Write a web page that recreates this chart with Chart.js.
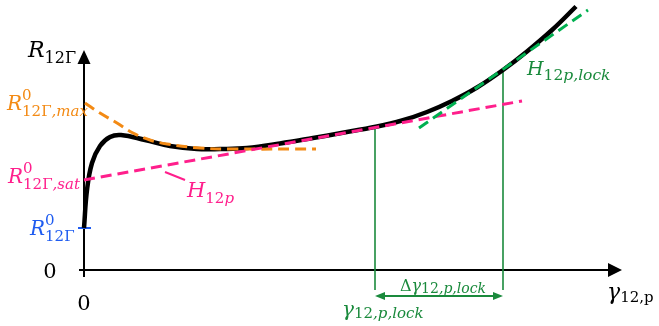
<!DOCTYPE html>
<html><head><meta charset="utf-8">
<script src="https://cdn.jsdelivr.net/npm/chart.js@4"></script>
<style>html,body{margin:0;padding:0;background:#fff}#wrap{width:659px;height:326px;position:relative}</style>
</head><body><div id="wrap"><canvas id="c"></canvas></div>
<script>
// Shear response R12Γ versus plastic shear strain γ12,p (arbitrary units)
const curveGamma = [0, 0.06, 0.16, 0.32, 0.52, 0.74, 1.22, 1.72, 2.26, 2.72, 3.26, 3.92, 4.58, 5.12, 5.86, 6.36, 6.86, 7.36, 7.86, 8.38, 8.86, 9.36, 9.84];
const curveR     = [0.84, 1.60, 2.14, 2.48, 2.66, 2.70, 2.60, 2.48, 2.42, 2.42, 2.44, 2.53, 2.64, 2.735, 2.87, 2.99, 3.16, 3.38, 3.65, 4.00, 4.37, 4.80, 5.27];
// exponential part starting from R0_max
const maxFitGamma = [0.02, 0.32, 0.66, 0.98, 1.32, 1.66, 2.32, 2.98, 4.64];
const maxFitR     = [3.34, 3.14, 2.94, 2.74, 2.60, 2.52, 2.44, 2.42, 2.42];
// linear hardening H12p from R0_sat
const satFitGamma = [0, 8.76];
const satFitR     = [1.80, 3.38];
// lock-up hardening tangent H12p,lock
const lockFitGamma = [6.70, 10.08];
const lockFitR     = [2.84, 5.20];
// lock-up interval
const gammaLock = 5.82;
const gammaLockEnd = 8.38;
const rAtLock = [2.87, 4.00];
const R0 = 0.84;
const tickLabels = ['0', '0'];

const pts = (xs, ys) => xs.map((v, i) => ({x: v, y: ys[i]}));

const ORANGE = '#f38a14', PINK = '#ff1f8c', GREEN = '#00b050', DKGREEN = '#1a8a3c', BLUE = '#1f5cf0';
const FAM = '"DejaVu Serif"';

// rich math-like text: parts = [text, role ('m' main | 'b' subscript | 'p' superscript), italic]
function rich(ctx, x, y, parts, color, main, small, subShift) {
  let cx = x, supStart = null;
  ctx.fillStyle = color;
  ctx.textBaseline = 'alphabetic';
  ctx.textAlign = 'left';
  parts.forEach(([t, role, it]) => {
    const size = role === 'm' ? main : small;
    ctx.font = (it ? 'italic ' : '') + size + 'px ' + FAM;
    let dy = 0;
    if (role === 'b') { dy = main * subShift; if (supStart !== null) { cx = supStart; supStart = null; } }
    if (role === 'p') { dy = -main * 0.5; supStart = cx; }
    ctx.fillText(t, cx, y + dy);
    cx += ctx.measureText(t).width;
  });
}

const axesPlugin = {
  id: 'axesPlugin',
  beforeDatasetsDraw(chart) {
    const {ctx, scales: {x, y}} = chart;
    const X = v => x.getPixelForValue(v), Y = v => y.getPixelForValue(v);
    ctx.save();
    ctx.strokeStyle = '#000'; ctx.fillStyle = '#000'; ctx.lineWidth = 2;
    const x0 = X(0), y0 = Y(0);
    // y axis
    ctx.beginPath(); ctx.moveTo(x0, Y(-0.14)); ctx.lineTo(x0, Y(4.2)); ctx.stroke();
    ctx.beginPath(); ctx.moveTo(x0, Y(4.4)); ctx.lineTo(x0 - 6.5, Y(4.4) + 14); ctx.lineTo(x0 + 6.5, Y(4.4) + 14); ctx.closePath(); ctx.fill();
    // x axis
    ctx.beginPath(); ctx.moveTo(X(-0.1), y0); ctx.lineTo(X(10.5), y0); ctx.stroke();
    ctx.beginPath(); ctx.moveTo(X(10.76), y0); ctx.lineTo(X(10.76) - 14, y0 - 7); ctx.lineTo(X(10.76) - 14, y0 + 7); ctx.closePath(); ctx.fill();
    // R0 tick
    ctx.strokeStyle = BLUE; ctx.lineWidth = 2;
    ctx.beginPath(); ctx.moveTo(x0 - 6, Y(R0)); ctx.lineTo(x0 + 7, Y(R0)); ctx.stroke();
    // lock-up interval verticals
    ctx.strokeStyle = DKGREEN; ctx.lineWidth = 1.6;
    [[gammaLock, rAtLock[0]], [gammaLockEnd, rAtLock[1]]].forEach(([g, r]) => {
      ctx.beginPath(); ctx.moveTo(X(g), Y(r)); ctx.lineTo(X(g), Y(-0.4)); ctx.stroke();
    });
    // double arrow
    const ya = Y(-0.52), xa = X(gammaLock), xb = X(gammaLockEnd);
    ctx.lineWidth = 2;
    ctx.beginPath(); ctx.moveTo(xa + 6, ya); ctx.lineTo(xb - 6, ya); ctx.stroke();
    ctx.fillStyle = DKGREEN;
    ctx.beginPath(); ctx.moveTo(xa, ya); ctx.lineTo(xa + 10, ya - 4); ctx.lineTo(xa + 10, ya + 4); ctx.closePath(); ctx.fill();
    ctx.beginPath(); ctx.moveTo(xb, ya); ctx.lineTo(xb - 10, ya - 4); ctx.lineTo(xb - 10, ya + 4); ctx.closePath(); ctx.fill();
    // H12p leader
    ctx.strokeStyle = PINK; ctx.lineWidth = 2;
    ctx.beginPath(); ctx.moveTo(X(1.62), Y(1.96)); ctx.lineTo(X(2.02), Y(1.80)); ctx.stroke();
    ctx.restore();
  },
  afterDatasetsDraw(chart) {
    const {ctx, scales: {x, y}} = chart;
    const X = v => x.getPixelForValue(v), Y = v => y.getPixelForValue(v);
    ctx.save();
    rich(ctx, X(-1.12), Y(4.26), [['R', 'm', true], ['12Γ', 'b', false]], '#000', 22, 16, 0.25);
    rich(ctx, X(-1.54), Y(3.2), [['R', 'm', true], ['0', 'p', false], ['12Γ', 'b', false], [',max', 'b', true]], ORANGE, 20, 15, 0.32);
    rich(ctx, X(-1.52), Y(1.74), [['R', 'm', true], ['0', 'p', false], ['12Γ', 'b', false], [',sat', 'b', true]], PINK, 20, 15, 0.32);
    rich(ctx, X(-1.08), Y(0.70), [['R', 'm', true], ['0', 'p', false], ['12Γ', 'b', false]], BLUE, 20, 15, 0.32);
    rich(ctx, X(2.06), Y(1.46), [['H', 'm', true], ['12', 'b', false], ['p', 'b', true]], PINK, 21, 15, 0.28);
    rich(ctx, X(8.86), Y(3.9), [['H', 'm', true], ['12', 'b', false], ['p,lock', 'b', true]], DKGREEN, 19, 15.5, 0.25);
    rich(ctx, X(6.32), Y(-0.42), [['Δ', 'm', false], ['γ', 'm', true], ['12', 'b', false], [',p,lock', 'b', true]], DKGREEN, 16, 14, 0.12);
    rich(ctx, X(5.16), Y(-0.92), [['γ', 'm', true], ['12', 'b', false], [',p,lock', 'b', true]], DKGREEN, 20, 15, 0.12);
    rich(ctx, X(10.46), Y(-0.58), [['γ', 'm', true], ['12,p', 'b', false]], '#000', 22, 15, 0.15);
    // origin ticks
    ctx.fillStyle = '#000'; ctx.font = '21px ' + FAM; ctx.textAlign = 'center'; ctx.textBaseline = 'alphabetic';
    ctx.fillText(tickLabels[0], X(-0.68), Y(-0.16));
    ctx.fillText(tickLabels[1], X(0), Y(-0.8));
    ctx.restore();
  }
};

const dashed = {borderWidth: 3, borderDash: [11, 6], pointRadius: 0, fill: false, tension: 0};

new Chart(document.getElementById('c'), {
  type: 'line',
  data: {
    datasets: [
      Object.assign({label: 'H12p,lock', data: pts(lockFitGamma, lockFitR), borderColor: GREEN, order: 1}, dashed),
      Object.assign({label: 'H12p', data: pts(satFitGamma, satFitR), borderColor: PINK, order: 2}, dashed),
      Object.assign({label: 'R0 max', data: pts(maxFitGamma, maxFitR), borderColor: ORANGE, order: 3}, dashed, {tension: 0.4}),
      {label: 'R12Γ', data: pts(curveGamma, curveR), borderColor: '#000', borderWidth: 4.5, pointRadius: 0, fill: false,
       tension: 0.4, order: 10}
    ]
  },
  options: {
    responsive: true, maintainAspectRatio: false, animation: false,
    layout: {padding: 0},
    plugins: {legend: {display: false}, tooltip: {enabled: false}},
    scales: {
      x: {type: 'linear', display: false, min: -1.68, max: 11.5},
      y: {type: 'linear', display: false, min: -1.12, max: 5.4}
    }
  },
  plugins: [axesPlugin]
});
</script>
</body></html>
